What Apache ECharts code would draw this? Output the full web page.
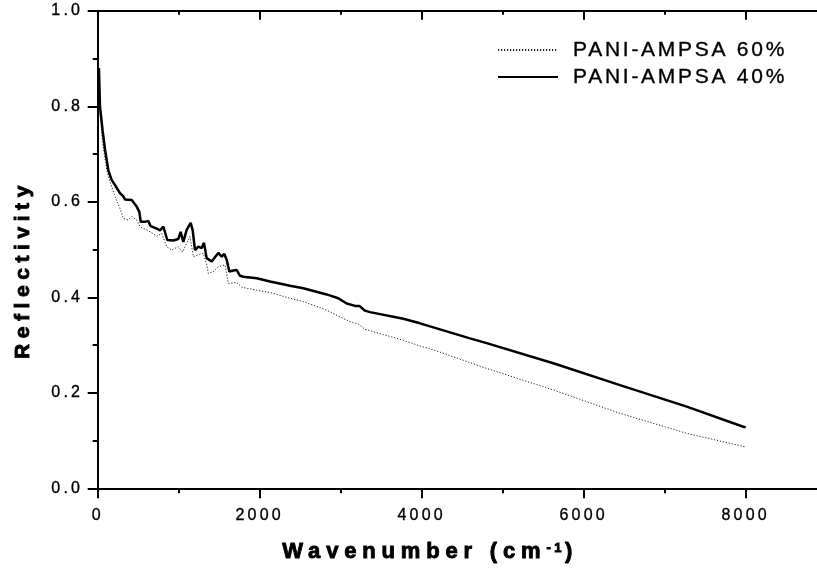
<!DOCTYPE html>
<html>
<head>
<meta charset="utf-8">
<script src="https://cdn.jsdelivr.net/npm/echarts@6/dist/echarts.min.js"></script>
<style>
  html, body { margin: 0; padding: 0; background: #fff; }
  #chart { width: 817px; height: 573px; }
</style>
</head>
<body>
<div id="chart"></div>
<script>
// Wide letter spacing like the original figure (applied consistently to measuring and drawing)
(function () {
  const P = CanvasRenderingContext2D.prototype;
  const d = Object.getOwnPropertyDescriptor(P, 'font');
  if (!d || !('letterSpacing' in P)) return;
  Object.defineProperty(P, 'font', {
    configurable: true,
    get() { return d.get.call(this); },
    set(v) {
      d.set.call(this, v);
      const m = /(\d+(?:\.\d+)?)px/.exec(v);
      const size = m ? parseFloat(m[1]) : 12;
      const bold = /bold|\b[6-9]00\b/.test(v);
      const em = bold ? 0.265 : (size >= 20 ? 0.13 : 0.2);
      this.letterSpacing = (size * em).toFixed(2) + 'px';
    }
  });
})();

// ---- Data ----
const seriesNames = ['PANI-AMPSA 60%', 'PANI-AMPSA 40%'];

const wave60 = [8, 28, 60, 90, 120, 152, 214, 275, 316, 378, 420, 481, 522, 605, 687, 728, 790, 852, 913, 995,
  1049, 1098, 1139, 1181, 1242, 1304, 1345, 1366, 1428, 1489, 1572, 1613, 1716, 1778, 1963, 2127, 2374, 2538,
  2827, 2991, 3115, 3218, 3300, 3773, 3979, 4144, 4802, 5625, 6448, 7272, 7991];
const refl60 = [0.89, 0.79, 0.725, 0.69, 0.66, 0.642, 0.611, 0.586, 0.565, 0.562, 0.569, 0.562, 0.548, 0.541, 0.533,
  0.528, 0.534, 0.506, 0.499, 0.506, 0.495, 0.513, 0.527, 0.485, 0.489, 0.492, 0.468, 0.450, 0.454, 0.464, 0.468,
  0.429, 0.431, 0.421, 0.415, 0.410, 0.398, 0.391, 0.373, 0.359, 0.349, 0.344, 0.333, 0.310, 0.298, 0.290, 0.251,
  0.206, 0.157, 0.115, 0.087];

const wave40 = [15, 28, 60, 90, 131, 172, 214, 275, 314, 337, 420, 481, 514, 531, 584, 625, 654, 728, 769, 810, 859,
  933, 995, 1024, 1057, 1098, 1148, 1172, 1201, 1242, 1284, 1312, 1345, 1407, 1448, 1489, 1531, 1563, 1593, 1625,
  1674, 1716, 1757, 1798, 1963, 2127, 2374, 2538, 2827, 2970, 3074, 3177, 3230, 3300, 3362, 3773, 3979, 4185,
  4596, 4802, 5625, 6448, 7272, 7970, 8000];
const refl40 = [0.88, 0.80, 0.75, 0.71, 0.666, 0.646, 0.635, 0.618, 0.612, 0.605, 0.604, 0.590, 0.579, 0.558, 0.558,
  0.560, 0.549, 0.544, 0.540, 0.548, 0.520, 0.519, 0.522, 0.537, 0.516, 0.541, 0.556, 0.541, 0.499, 0.506, 0.503,
  0.514, 0.482, 0.475, 0.484, 0.493, 0.485, 0.491, 0.478, 0.454, 0.456, 0.457, 0.445, 0.443, 0.440, 0.433, 0.424,
  0.419, 0.406, 0.398, 0.387, 0.382, 0.382, 0.372, 0.369, 0.355, 0.3455, 0.335, 0.314, 0.304, 0.262, 0.216, 0.171,
  0.129, 0.128];

const xMin = 0, xMax = 9000, xStep = 2000, xLastLabel = 8000;
const yMin = 0, yMax = 1.0, yStep = 0.2;
const xTitle = 'Wavenumber (cm';
const xTitleSup = '-1';
const yTitle = 'Reflectivity';

// ---- Chart ----
const FONT = '"Liberation Sans", Arial, Helvetica, sans-serif';
const chart = echarts.init(document.getElementById('chart'), null, { renderer: 'canvas' });

const axisLineStyle = { color: '#000', width: 2 };
const tickStyle = { color: '#000', width: 2 };
const thinEdge = { textBorderColor: '#000', textBorderWidth: 0.35 };
const boldEdge = { textBorderColor: '#000', textBorderWidth: 0.9 };

chart.setOption({
  animation: false,
  backgroundColor: '#fff',
  grid: { left: 97.7, top: 10.8, right: -9.7, bottom: 84.7, containLabel: false, outerBoundsMode: 'none' },
  legend: {
    orient: 'vertical',
    left: 492,
    top: 33,
    itemWidth: 60,
    itemHeight: 14,
    itemGap: 3,
    data: seriesNames,
    itemStyle: { opacity: 0 },
    textStyle: Object.assign({ fontFamily: FONT, fontSize: 21, lineHeight: 21, color: '#000', padding: [0, 0, 0, 10] }, thinEdge)
  },
  xAxis: [
    {
      type: 'value', position: 'bottom', min: xMin, max: xMax, interval: xStep,
      axisLine: { show: true, onZero: false, lineStyle: axisLineStyle },
      axisTick: { show: true, inside: false, length: 10, lineStyle: tickStyle },
      minorTick: { show: true, splitNumber: 2, length: 5, lineStyle: tickStyle },
      splitLine: { show: false },
      axisLabel: Object.assign({
        margin: 19, color: '#000', fontFamily: FONT, fontSize: 16, lineHeight: 16,
        formatter: v => (v % xStep === 0 && v <= xLastLabel) ? String(v) : ''
      }, thinEdge),
      name: '{a|' + xTitle + '}{s|' + xTitleSup + '}{a|)}',
      nameLocation: 'middle',
      nameGap: 52,
      nameTextStyle: {
        padding: [0, 64, 0, 0],
        rich: {
          a: Object.assign({ fontFamily: FONT, fontSize: 22, fontWeight: 'bold', color: '#000', lineHeight: 26, verticalAlign: 'bottom' }, boldEdge),
          s: Object.assign({ fontFamily: FONT, fontSize: 13, fontWeight: 'bold', color: '#000', lineHeight: 12, verticalAlign: 'top' }, boldEdge)
        }
      }
    },
    {
      type: 'value', position: 'top', min: xMin, max: xMax, interval: xStep,
      axisLine: { show: true, onZero: false, lineStyle: axisLineStyle },
      axisTick: { show: true, inside: true, length: 9, lineStyle: tickStyle },
      minorTick: { show: true, splitNumber: 2, length: 4, lineStyle: tickStyle },
      splitLine: { show: false },
      axisLabel: { show: false }
    }
  ],
  yAxis: {
    type: 'value', min: yMin, max: yMax, interval: yStep,
    axisLine: { show: true, onZero: false, lineStyle: axisLineStyle },
    axisTick: { show: true, inside: false, length: 10, lineStyle: tickStyle },
    minorTick: { show: true, splitNumber: 2, length: 5, lineStyle: tickStyle },
    splitLine: { show: false },
    axisLabel: Object.assign({
      margin: 14.5, color: '#000', fontFamily: FONT, fontSize: 16, lineHeight: 16,
      formatter: v => v.toFixed(1)
    }, thinEdge),
    name: yTitle,
    nameLocation: 'middle',
    nameGap: 64,
    nameTextStyle: Object.assign({
      fontFamily: FONT, fontSize: 21, fontWeight: 'bold', color: '#000', lineHeight: 21,
      padding: [0, 40, 0, 0]
    }, boldEdge)
  },
  series: [
    {
      name: seriesNames[0],
      type: 'line',
      xAxisIndex: 0,
      showSymbol: false,
      symbol: 'none',
      data: wave60.map((w, i) => [w, refl60[i]]),
      lineStyle: { color: '#222', width: 1, type: [1.2, 1.8] },
      itemStyle: { color: '#222' },
      z: 2
    },
    {
      name: seriesNames[1],
      type: 'line',
      xAxisIndex: 0,
      showSymbol: false,
      symbol: 'none',
      data: wave40.map((w, i) => [w, refl40[i]]),
      lineStyle: { color: '#000', width: 2.5, type: 'solid' },
      itemStyle: { color: '#000' },
      z: 3
    }
  ]
});
</script>
</body>
</html>
